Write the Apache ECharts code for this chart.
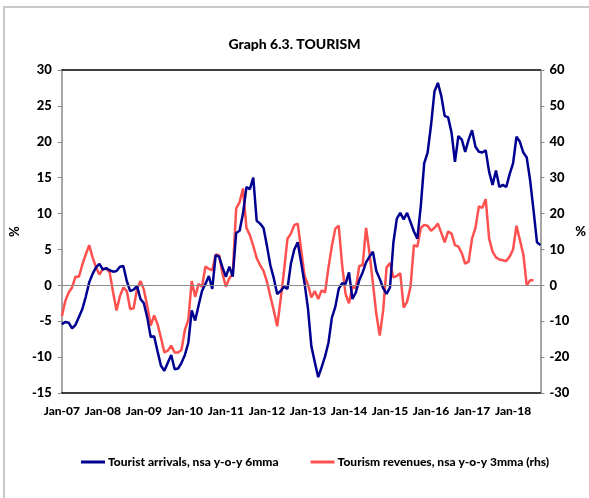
<!DOCTYPE html>
<html>
<head>
<meta charset="utf-8">
<script src="https://cdn.jsdelivr.net/npm/echarts@6/dist/echarts.min.js"></script>
<style>
  html, body { margin: 0; padding: 0; background: #fff; }
  #chart { width: 589px; height: 498px; }
</style>
</head>
<body>
<div id="chart"></div>
<script>
// monthly, Jan-07 .. Sep-18
const monthNames = ['Jan', 'Feb', 'Mar', 'Apr', 'May', 'Jun', 'Jul', 'Aug', 'Sep', 'Oct', 'Nov', 'Dec']
const years = ['07', '08', '09', '10', '11', '12', '13', '14', '15', '16', '17', '18']
const categories = []
years.forEach((y) => monthNames.forEach((m) => categories.push(`${m}-${y}`)))
categories.length = 141

// Tourist arrivals, nsa y-o-y 6mma (lhs, %)
const arrivals = [
  -5.4, -5.1, -5.2, -6.0, -5.5, -4.4, -3.3, -1.6, 0.4, 1.6,
  2.5, 3.0, 2.2, 2.4, 2.1, 1.9, 2.0, 2.6, 2.7, 0.6,
  -0.8, -0.6, -0.1, -1.9, -2.5, -4.5, -7.2, -7.1, -9.2, -11.2,
  -11.9, -10.8, -9.7, -11.7, -11.6, -10.8, -9.7, -8.0, -3.5, -4.9,
  -2.8, -0.8, 0.2, 1.3, -0.5, 4.2, 4.0, 2.5, 1.2, 2.6,
  1.2, 7.3, 7.6, 10.0, 13.7, 13.4, 15.0, 9.0, 8.6, 8.0,
  5.5, 2.8, 1.0, -1.2, -0.8, -0.2, -0.5, 3.0, 5.0, 6.0,
  3.2, 0.3, -3.2, -8.5, -10.7, -12.8, -11.4, -9.9, -8.0, -4.5,
  -3.0, -0.5, 0.3, 0.2, 1.8, -1.9, -1.0, 0.7, 1.8, 3.2,
  4.0, 4.7, 2.0, 0.9, -0.4, -1.2, -0.3, 6.0, 9.3, 10.1,
  9.2, 10.1, 8.8, 7.5, 6.5, 11.0, 17.0, 18.5, 22.3, 27.0,
  28.2, 26.4, 23.6, 23.4, 21.3, 17.2, 20.8, 20.3, 18.6, 20.3,
  21.6, 19.3, 18.6, 18.5, 18.8, 15.8, 14.0, 16.0, 13.7, 14.0,
  13.7, 15.5, 17.0, 20.7, 20.0, 18.5, 17.8, 14.6, 10.4, 6.0,
  5.6,
]

// Tourism revenues, nsa y-o-y 3mma (rhs, %)
const revenues = [
  -8.6, -4.4, -2.0, -0.6, 2.4, 2.4, 5.8, 8.6, 11.2, 7.8,
  5.0, 3.0, 4.6, 4.6, 3.6, -2.0, -7.0, -3.0, -0.6, -1.6,
  -6.6, -6.4, -1.0, 1.2, -1.2, -5.8, -11.2, -8.4, -10.8, -14.6,
  -18.7, -18.2, -16.8, -18.7, -18.7, -18.0, -12.4, -9.6, 1.2, -3.2,
  0.4, -0.4, 5.2, 4.6, 4.2, 8.6, 8.4, 3.2, -0.4, 2.0,
  3.2, 21.4, 23.2, 27.0, 16.0, 14.0, 11.0, 7.6, 5.6, 4.0,
  1.0, -3.0, -7.0, -11.4, -4.0, 4.0, 13.0, 14.4, 16.8, 17.2,
  10.0, 2.6, 0.2, -3.4, -1.6, -3.8, -1.4, -2.0, 5.0, 11.0,
  15.8, 16.6, 5.6, -2.4, -5.0, -0.4, -0.8, 5.4, 5.6, 16.0,
  9.0, 0.6, -8.0, -14.0, -7.0, 5.0, 6.2, 2.2, 2.6, 3.4,
  -6.2, -4.6, -0.4, 11.2, 10.8, 16.0, 16.8, 16.6, 15.2, 16.0,
  17.2, 14.6, 12.0, 15.0, 14.4, 11.2, 10.8, 9.0, 6.0, 6.6,
  13.0, 16.0, 22.0, 21.6, 24.0, 13.0, 9.4, 7.8, 7.2, 7.0,
  6.8, 8.0, 10.0, 16.6, 12.6, 8.6, 0.0, 1.4, 1.4, null,
  null,
]

const font = "Lato, 'Open Sans', sans-serif"
const txt = { fontFamily: font, fontWeight: 900, color: '#000' }

const chart = echarts.init(document.getElementById('chart'))

chart.setOption({
  animation: false,
  backgroundColor: '#fff',
  title: {
    text: 'Graph 6.3. TOURISM',
    left: 'center',
    top: 32,
    textStyle: { ...txt, fontSize: 14 },
  },
  graphic: [
    {
      type: 'rect',
      shape: { x: 4, y: 7, width: 700, height: 600 },
      style: { fill: 'none', stroke: '#c8c8c8', lineWidth: 2 },
      silent: true,
    },
  ],
  legend: {
    bottom: 25,
    left: 76,
    width: 520,
    itemWidth: 24,
    itemHeight: 3,
    itemGap: 32,
    icon: 'rect',
    textStyle: { ...txt, fontSize: 12, padding: [0, 0, 0, -2] },
    data: ['Tourist arrivals, nsa y-o-y 6mma', 'Tourism revenues, nsa y-o-y 3mma (rhs)'],
  },
  grid: { left: 47, right: 38, top: 70, bottom: 105 },
  xAxis: [
    {
      type: 'category',
      data: categories,
      boundaryGap: false,
      axisLine: { onZero: false, lineStyle: { color: '#000', width: 1.5 } },
      axisTick: { show: false },
      axisLabel: {
        ...txt,
        fontSize: 12,
        margin: 12,
        interval: (idx) => idx % 12 === 0,
      },
      splitLine: { show: false },
    },
    {
      type: 'category',
      data: categories,
      position: 'top',
      boundaryGap: false,
      axisLine: { onZero: false, lineStyle: { color: '#000', width: 1.5 } },
      axisTick: { show: false },
      axisLabel: { show: false },
    },
  ],
  yAxis: [
    {
      type: 'value',
      min: -15,
      max: 30,
      interval: 5,
      name: '%',
      nameLocation: 'middle',
      nameGap: 31,
      nameRotate: 90,
      nameTextStyle: { ...txt, fontSize: 13 },
      axisLine: { show: true, lineStyle: { color: '#888', width: 1.5 } },
      axisTick: { show: true, length: 4, lineStyle: { color: '#888' } },
      axisLabel: { ...txt, fontSize: 13, margin: 10 },
      splitLine: { show: false },
    },
    {
      type: 'value',
      min: -30,
      max: 60,
      interval: 10,
      position: 'right',
      name: '%',
      nameLocation: 'middle',
      nameGap: 33,
      nameRotate: 0,
      nameTextStyle: { ...txt, fontSize: 13 },
      axisLine: { show: true, lineStyle: { color: '#888', width: 1.5 } },
      axisTick: { show: true, length: 4, lineStyle: { color: '#888' } },
      axisLabel: { ...txt, fontSize: 13, margin: 9 },
      splitLine: { show: false },
    },
  ],
  series: [
    {
      name: 'Tourist arrivals, nsa y-o-y 6mma',
      type: 'line',
      data: arrivals,
      yAxisIndex: 0,
      showSymbol: false,
      z: 3,
      lineStyle: { color: '#000090', width: 2.5 },
      itemStyle: { color: '#000090' },
      markLine: {
        silent: true,
        symbol: 'none',
        label: { show: false },
        lineStyle: { color: '#8c8c8c', width: 1.2, type: 'solid' },
        data: [{ yAxis: 0 }],
      },
    },
    {
      name: 'Tourism revenues, nsa y-o-y 3mma (rhs)',
      type: 'line',
      data: revenues,
      yAxisIndex: 1,
      showSymbol: false,
      z: 2,
      lineStyle: { color: '#ff5050', width: 2.5 },
      itemStyle: { color: '#ff5050' },
    },
  ],
})
</script>
</body>
</html>
